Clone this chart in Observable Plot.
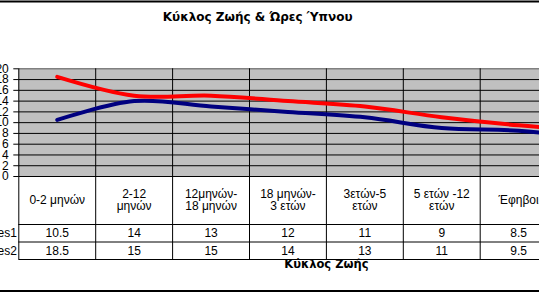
<!DOCTYPE html>
<html>
<head>
<meta charset="utf-8">
<script src="https://cdn.jsdelivr.net/npm/d3@7"></script>
<script src="https://cdn.jsdelivr.net/npm/@observablehq/plot@0.6"></script>
<style>
  html, body { margin: 0; padding: 0; background: #fff; overflow: hidden; }
  svg { overflow: hidden !important; display: block; }
</style>
</head>
<body>
<div id="chart"></div>
<script>
const categories = ["0-2 μηνών", "2-12\nμηνών", "12μηνών-\n18 μηνών", "18 μηνών-\n3 ετών", "3ετών-5\nετών", "5 ετών -12\nετών", "Έφηβοι", "Ενήλικες"];
const series1 = [10.5, 14, 13, 12, 11, 9, 8.5, 7];
const series2 = [18.5, 15, 15, 14, 13, 11, 9.5, 8.5];
const seriesNames = ["Series1", "Series2"];
const yTicks = [0, 2, 4, 6, 8, 10, 12, 14, 16, 18, 20];
const title = "Κύκλος Ζωής & Ώρες Ύπνου";
const xTitle = "Κύκλος Ζωής";

const n = categories.length;
const colW = 76.9;
const left = 18.3;
const lineData = [
  ...series1.map((v, i) => ({s: seriesNames[0], i, v})),
  ...series2.map((v, i) => ({s: seriesNames[1], i, v}))
];
const rowOffsets = [57, 74.5]; // vertical offsets (px) of the table rows below the axis
const tableCells = [
  ...series1.map((v, i) => ({row: 0, i, v})),
  ...series2.map((v, i) => ({row: 1, i, v}))
];
const font = "Liberation Sans, Arial, sans-serif";
const boldFont = "DejaVu Sans, Verdana, sans-serif";
const smooth = d3.curveCardinal.tension(0);

const chart = Plot.plot({
  width: 539,
  height: 292,
  marginLeft: left,
  marginRight: 0,
  marginTop: 68.3,
  marginBottom: 116,
  style: {fontFamily: font, fontSize: "12px", background: "#fff", overflow: "hidden"},
  x: {type: "linear", domain: [0, n], range: [left, left + n * colW], axis: null},
  y: {type: "linear", domain: [0, 20], axis: null},
  marks: [
    Plot.rect([0], {x1: 0, x2: n, y1: 0, y2: 20, fill: "#c0c0c0"}),
    Plot.ruleY(yTicks.filter(d => d < 20), {stroke: "#000", strokeWidth: 1}),
    Plot.ruleY([20], {stroke: "#808080", strokeWidth: 1.5}),
    Plot.ruleX(d3.range(n + 1), {y1: 20, y2: 0, insetBottom: -83, stroke: "#000", strokeWidth: 1}),
    Plot.ruleY([0], {dy: 48, stroke: "#000"}),
    Plot.ruleY([0], {dy: 65.5, stroke: "#000"}),
    Plot.ruleY([0], {dy: 83, stroke: "#000"}),
    Plot.axisY({ticks: yTicks, tickSize: 5, tickPadding: 5, fontSize: 12, tickFormat: d => String(d), fontFamily: font, label: null}),
    Plot.line(lineData, {x: d => d.i + 0.5, y: "v", z: "s",
      stroke: d => d.s === seriesNames[0] ? "#000080" : "#ff0000",
      strokeWidth: 4, curve: smooth, strokeLinejoin: "round"}),
    Plot.text(categories, {x: (d, i) => i + 0.5, y: 0, dy: 24, text: d => d,
      lineAnchor: "middle", fontSize: 12, lineHeight: 0.98, fontFamily: font}),
    ...rowOffsets.map((off, r) =>
      Plot.text(tableCells.filter(d => d.row === r), {x: d => d.i + 0.5, y: 0, dy: off, text: d => String(d.v),
        fontSize: 12, fontFamily: font})),
    ...rowOffsets.map((off, r) =>
      Plot.text([seriesNames[r]], {x: 0, y: 0, dx: -2, dy: off, text: d => d, textAnchor: "end", fontSize: 12, fontFamily: font})),
    Plot.text([xTitle], {x: n / 2, y: 0, dy: 88, text: d => d, fontWeight: "bold", fontSize: 11.5, fontFamily: boldFont}),
    Plot.text([title], {frameAnchor: "top", dx: -21.5, dy: -51.3, text: d => d, fontWeight: "bold", fontSize: 12, fontFamily: boldFont, lineAnchor: "middle"}),
    Plot.ruleY([20], {dy: -67.3, insetLeft: -left, stroke: "#000", strokeWidth: 2}),
    Plot.ruleY([0], {dy: 114.5, insetLeft: -left, stroke: "#000", strokeWidth: 2})
  ]
});

document.getElementById("chart").appendChild(chart);
</script>
</body>
</html>
